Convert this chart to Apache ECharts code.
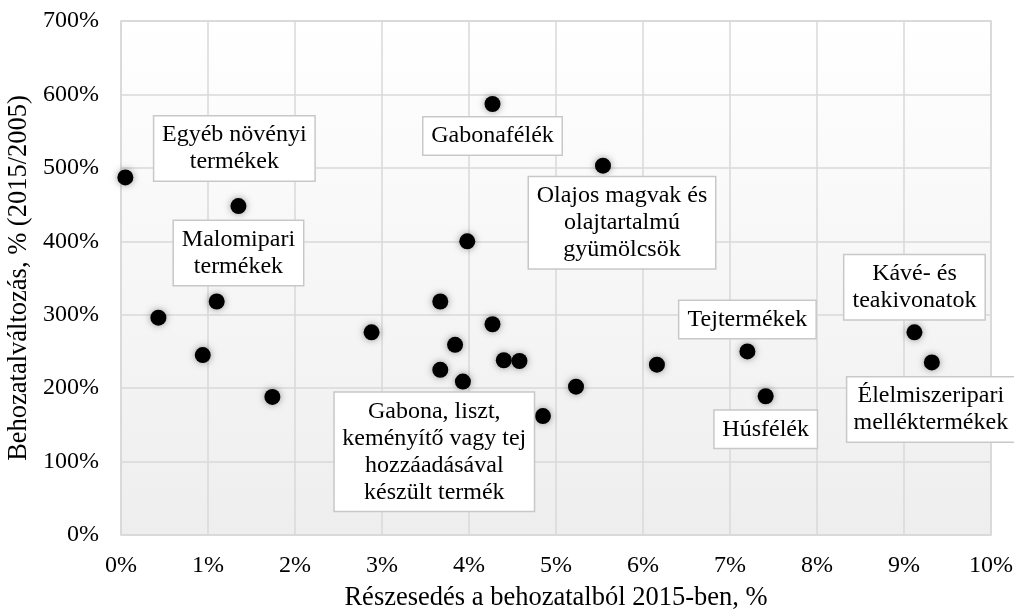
<!DOCTYPE html>
<html>
<head>
<meta charset="utf-8">
<script src="https://cdn.jsdelivr.net/npm/echarts@6/dist/echarts.min.js"></script>
<style>
  html, body { margin: 0; padding: 0; background: #fff; }
  #chart { width: 1014px; height: 614px; }
</style>
</head>
<body>
<div id="chart"></div>
<script>
// share of imports in 2015 (%), change of imports 2015/2005 (%)
const shareX = [0.05, 1.35, 1.10, 0.43, 0.94, 1.74, 2.88, 4.27, 3.98, 3.67, 4.27, 3.84,
  4.40, 4.58, 3.67, 3.93, 4.85, 5.54, 5.23, 6.16, 7.20, 7.41, 9.12, 9.32];
const changeY = [487, 448, 318, 296, 245, 188, 276, 587, 400, 318, 287, 259,
  238, 237, 225, 209, 162, 503, 202, 232, 250, 189, 276, 235];
const pointNames = ['Egyéb növényi\ntermékek', 'Malomipari\ntermékek', '', '', '', '', '',
  'Gabonafélék', '', '', '', '', '', '', 'Gabona, liszt,\nkeményítő vagy tej\nhozzáadásával\nkészült termék',
  '', '', 'Olajos magvak és\nolajtartalmú\ngyümölcsök', '', '', 'Tejtermékek', 'Húsfélék',
  'Kávé- és\nteakivonatok', 'Élelmiszeripari\nmelléktermékek'];
const xTicks = [0, 1, 2, 3, 4, 5, 6, 7, 8, 9, 10];
const yTicks = [0, 100, 200, 300, 400, 500, 600, 700];

// where each text box sits relative to its point (px) and its inner width
const labelLayout = {
  0: { offset: [109, -29], width: 148 },
  1: { offset: [0, 47], width: 117 },
  7: { offset: [0, 32], width: 126 },
  14: { offset: [-6, 82], width: 187 },
  17: { offset: [19, 57], width: 174 },
  20: { offset: [0, -32], width: 124 },
  21: { offset: [0, 33], width: 90 },
  22: { offset: [0, -45], width: 128 },
  23: { offset: [-1, 47], width: 155 }
};

const FONT = 'Liberation Serif';
const FS = 24;
const TITLE_FS = 26.5;

const seriesData = shareX.map((x, i) => {
  const item = { value: [x, changeY[i]], name: pointNames[i] };
  const lay = labelLayout[i];
  if (lay && pointNames[i]) {
    item.label = {
      show: true,
      position: 'inside',
      offset: lay.offset,
      width: lay.width,
      align: 'center',
      verticalAlign: 'middle',
      formatter: '{b}',
      fontFamily: FONT,
      fontSize: FS,
      lineHeight: 27,
      color: '#000',
      backgroundColor: '#fff',
      borderColor: '#c8c8c8',
      borderWidth: 1.5,
      padding: [5, 6]
    };
  }
  return item;
});

const chart = echarts.init(document.getElementById('chart'), null, { renderer: 'canvas' });
chart.setOption({
  animation: false,
  backgroundColor: '#fff',
  textStyle: { fontFamily: FONT },
  grid: {
    left: 121, right: 23, top: 21, bottom: 79,
    outerBoundsMode: 'none',
    containLabel: false,
    show: true,
    borderColor: '#d4d4d4',
    borderWidth: 1.5,
    backgroundColor: new echarts.graphic.LinearGradient(0, 0, 0, 1, [
      { offset: 0, color: '#ffffff' },
      { offset: 1, color: '#eeeeee' }
    ])
  },
  xAxis: {
    type: 'value',
    min: xTicks[0], max: xTicks[xTicks.length - 1], interval: 1,
    name: 'Részesedés a behozatalból 2015-ben, %',
    nameLocation: 'middle',
    nameGap: 50,
    nameTextStyle: { fontFamily: FONT, fontSize: TITLE_FS, color: '#000' },
    axisLine: { show: false },
    axisTick: { show: false },
    axisLabel: { margin: 19, fontFamily: FONT, fontSize: FS, color: '#000', formatter: v => v + '%' },
    splitLine: { show: true, lineStyle: { color: '#d9d9d9', width: 1.5 } }
  },
  yAxis: {
    type: 'value',
    min: yTicks[0], max: yTicks[yTicks.length - 1], interval: 100,
    name: 'Behozatalváltozás, % (2015/2005)',
    nameLocation: 'middle',
    nameGap: 86,
    nameTextStyle: { fontFamily: FONT, fontSize: TITLE_FS, color: '#000' },
    axisLine: { show: false },
    axisTick: { show: false },
    axisLabel: { margin: 22, fontFamily: FONT, fontSize: FS, color: '#000', formatter: v => v + '%' },
    splitLine: { show: true, lineStyle: { color: '#d9d9d9', width: 1.5 } }
  },
  series: [{
    type: 'scatter',
    symbol: 'circle',
    symbolSize: 16,
    itemStyle: { color: '#000', opacity: 1, shadowBlur: 7, shadowColor: 'rgba(0,0,0,0.4)' },
    label: { show: false },
    emphasis: { disabled: true },
    data: seriesData
  }]
});
</script>
</body>
</html>
